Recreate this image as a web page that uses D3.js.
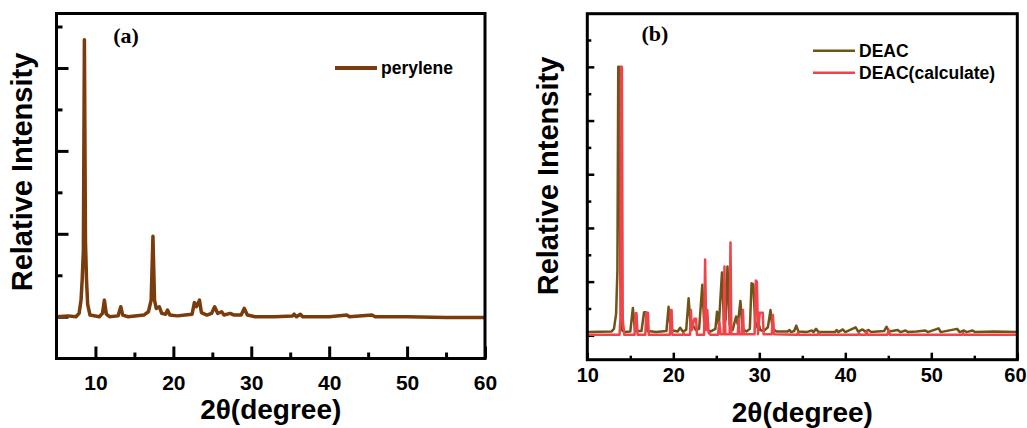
<!DOCTYPE html>
<html lang="en">
<head>
    <meta charset="UTF-8">
    <title>XRD patterns</title>
    <script src="https://cdnjs.cloudflare.com/ajax/libs/d3/7.8.5/d3.min.js"></script>
    <style>
        body { margin: 0; background: #fff; }
        svg { display: block; }
        text { font-family: "Liberation Sans", Arial, sans-serif; font-weight: bold; fill: #000; }
    </style>
</head>
<body>
    <div id="chart"></div>

    <script>
        //x ticks (degrees)
        let xTicksA = [10, 20, 30, 40, 50, 60];
        let xMinorA = [15, 25, 35, 45, 55];
        let xTicksB = [10, 20, 30, 40, 50, 60];
        let xMinorB = [15, 25, 35, 45, 55];

        //y ticks (unlabelled, relative units)
        let yMajorA = [0, 1, 2, 3];
        let yMinorA = [0.5, 1.5, 2.5, 3.5];
        let yMajorB = [0, 1, 2, 3, 4, 5];
        let yMinorB = [0.5, 1.5, 2.5, 3.5, 4.5, 5.5];

        //perylene pattern, [2theta, intensity]
        let perylene = [
            [5, 0.0], [6.5, 0.01], [7.5, 0.0], [7.9, 0.04], [8.15, 0.2], [8.3, 0.45], [8.45, 0.8], [8.58, 3.34],
            [8.72, 0.9], [8.85, 0.45], [9.0, 0.15], [9.3, 0.02], [10.5, 0.0], [10.9, 0.04], [11.15, 0.2],
            [11.4, 0.03], [11.8, 0.0], [12.9, 0.01], [13.25, 0.12], [13.5, 0.02], [14.2, 0.0], [16.2, 0.02],
            [16.8, 0.06], [17.15, 0.2], [17.38, 0.97], [17.58, 0.2], [17.8, 0.1], [18.2, 0.12], [18.5, 0.04],
            [19.0, 0.03], [19.25, 0.08], [19.55, 0.02], [20.5, 0.01], [21.5, 0.02], [22.4, 0.03], [22.7, 0.17],
            [22.95, 0.12], [23.35, 0.2], [23.6, 0.05], [24.3, 0.02], [24.9, 0.04], [25.3, 0.12], [25.7, 0.04],
            [26.2, 0.06], [26.5, 0.02], [27.3, 0.04], [27.8, 0.02], [28.7, 0.02], [29.1, 0.1], [29.5, 0.02],
            [30.5, 0.0], [33.0, 0.0], [35.3, 0.01], [35.5, 0.03], [35.8, 0.0], [36.3, 0.03], [36.6, 0.0],
            [40.0, 0.0], [42.3, 0.02], [42.6, 0.0], [45.5, 0.02], [45.9, 0.0], [50.0, 0.0], [55.0, -0.01],
            [60, -0.01]
        ];

        //DEAC measured pattern
        let deac = [
            [10, 0.06], [12.8, 0.07], [13.1, 0.12], [13.35, 0.4], [13.5, 1.2], [13.6, 5.0], [13.72, 5.0],
            [13.85, 1.0], [14.0, 0.1], [14.3, 0.06], [15.0, 0.07], [15.3, 0.51], [15.55, 0.08], [16.3, 0.08],
            [16.6, 0.43], [16.8, 0.43], [17.0, 0.08], [18.0, 0.06], [19.2, 0.08], [19.45, 0.53], [19.7, 0.1],
            [20.5, 0.07], [20.8, 0.14], [21.1, 0.07], [21.5, 0.1], [21.78, 0.69], [22.05, 0.12], [22.3, 0.18],
            [22.6, 0.1], [23.0, 0.12], [23.37, 0.94], [23.6, 0.2], [23.9, 0.12], [24.3, 0.07], [24.9, 0.12],
            [25.08, 0.44], [25.3, 0.2], [25.66, 1.17], [25.9, 0.2], [26.1, 0.3], [26.3, 1.28], [26.55, 0.2],
            [26.9, 0.1], [27.3, 0.35], [27.5, 0.2], [27.8, 0.64], [28.05, 0.12], [28.5, 0.07], [28.9, 0.12],
            [29.1, 0.97], [29.3, 0.95], [29.55, 0.15], [29.9, 0.25], [30.1, 0.1], [30.5, 0.08], [31.0, 0.15],
            [31.3, 0.47], [31.55, 0.12], [32.0, 0.07], [33.3, 0.07], [33.5, 0.1], [33.7, 0.06], [34.05, 0.08],
            [34.3, 0.18], [34.55, 0.07], [35.5, 0.06], [36.1, 0.09], [36.3, 0.06], [36.6, 0.12], [36.9, 0.06],
            [38.8, 0.06], [39.0, 0.1], [39.2, 0.06], [39.7, 0.11], [40.0, 0.06], [41.2, 0.15], [41.5, 0.07],
            [42.0, 0.11], [42.3, 0.07], [42.7, 0.1], [43.0, 0.06], [44.5, 0.08], [44.8, 0.16], [45.1, 0.07],
            [46.1, 0.1], [46.4, 0.06], [47.0, 0.09], [47.3, 0.06], [48.3, 0.07], [49.3, 0.09], [49.6, 0.06],
            [50.85, 0.13], [51.1, 0.06], [53.0, 0.12], [53.3, 0.06], [53.8, 0.09], [54.1, 0.06], [54.8, 0.09],
            [55.1, 0.06], [57.3, 0.07], [60, 0.06]
        ];

        //DEAC calculated pattern
        let deacCalc = [
            [10, 0.01], [13.75, 0.01], [13.85, 0.3], [13.92, 5.0], [14.02, 5.0], [14.12, 0.3], [14.3, 0.01],
            [15.5, 0.01], [15.6, 0.41], [15.72, 0.41], [15.85, 0.01], [16.75, 0.01], [16.85, 0.42], [17.05, 0.42],
            [17.15, 0.01], [19.6, 0.01], [19.7, 0.47], [19.8, 0.47], [19.9, 0.01], [21.1, 0.01], [21.2, 0.04],
            [21.3, 0.01], [21.95, 0.01], [22.05, 0.47], [22.15, 0.1], [22.45, 0.31], [22.65, 0.31], [22.75, 0.01],
            [23.58, 0.01], [23.7, 1.41], [23.82, 0.1], [23.95, 0.47], [24.1, 0.05], [24.3, 0.01], [25.2, 0.01],
            [25.35, 0.25], [25.5, 0.02], [25.85, 0.02], [25.95, 1.28], [26.05, 0.02], [26.55, 0.02], [26.65, 1.73],
            [26.75, 0.02], [27.5, 0.02], [27.6, 0.3], [27.7, 0.02], [28.0, 0.02], [28.1, 0.47], [28.2, 0.02],
            [29.45, 0.02], [29.6, 1.02], [29.72, 1.0], [29.85, 0.02], [30.05, 0.42], [30.4, 0.42], [30.5, 0.02],
            [31.45, 0.02], [31.58, 0.38], [31.72, 0.02], [34.4, 0.01], [34.5, 0.05], [34.6, 0.01], [36.8, 0.01],
            [36.9, 0.04], [37.0, 0.01], [41.5, 0.01], [41.6, 0.04], [41.7, 0.01], [42.4, 0.01], [42.5, 0.07],
            [42.6, 0.01], [44.9, 0.01], [45.05, 0.1], [45.2, 0.01], [53.6, 0.01], [53.7, 0.04], [53.8, 0.01],
            [60, 0.01]
        ];

        let width = 1027;
        let height = 428;

        let svg = d3.select('#chart')
            .append('svg')
            .attr('width', width)
            .attr('height', height);

        //draws one framed panel
        function drawPanel(opt) {
            let x = d3.scaleLinear().domain(opt.xDomain).range([opt.left, opt.right]);
            let y = d3.scaleLinear().domain(opt.yDomain).range([opt.bottom, opt.top]);
            let g = svg.append('g');

            //x major ticks with labels (pointing inward)
            let xAxis = g.append('g')
                .attr('transform', `translate(0,${opt.bottom})`)
                .call(d3.axisBottom(x).tickValues(opt.xTicks).tickSize(-opt.majorLen).tickPadding(opt.labelPad).tickFormat(d3.format('d')));
            xAxis.selectAll('text').style('font-size', opt.tickFont + 'px');
            //last label sits against the page edge
            xAxis.selectAll('text').filter(d => d === 60 && opt.right > 1000).attr('dx', '-0.12em');

            //x minor ticks
            let xMinor = g.append('g')
                .attr('transform', `translate(0,${opt.bottom})`)
                .call(d3.axisBottom(x).tickValues(opt.xMinor).tickSize(-opt.minorLen).tickFormat(''));

            //y ticks, no labels
            let yAxis = g.append('g')
                .attr('transform', `translate(${opt.left},0)`)
                .call(d3.axisLeft(y).tickValues(opt.yMajor).tickSize(-opt.majorLen).tickFormat(''));
            let yMinor = g.append('g')
                .attr('transform', `translate(${opt.left},0)`)
                .call(d3.axisLeft(y).tickValues(opt.yMinor).tickSize(-opt.minorLen).tickFormat(''));

            [xAxis, xMinor, yAxis, yMinor].forEach(a => {
                a.select('.domain').remove();
                a.selectAll('line').attr('stroke', '#000').attr('stroke-width', opt.tickWidth);
            });

            //data lines
            let line = d3.line().x(d => x(d[0])).y(d => y(d[1]));
            opt.series.forEach(s => {
                g.append('path')
                    .datum(s.data)
                    .attr('d', line)
                    .attr('fill', 'none')
                    .attr('stroke', s.color)
                    .attr('stroke-width', s.width)
                    .attr('stroke-linejoin', 'round');
            });

            //frame
            g.append('rect')
                .attr('x', opt.left)
                .attr('y', opt.top)
                .attr('width', opt.right - opt.left)
                .attr('height', opt.bottom - opt.top)
                .attr('fill', 'none')
                .attr('stroke', '#000')
                .attr('stroke-width', 3);

            //legend
            opt.series.forEach((s, i) => {
                let ly = opt.legendY + i * opt.legendGap;
                g.append('line')
                    .attr('x1', opt.legendX).attr('x2', opt.legendX + opt.legendLen)
                    .attr('y1', ly).attr('y2', ly)
                    .attr('stroke', s.color)
                    .attr('stroke-width', s.legendWidth);
                g.append('text')
                    .attr('x', opt.legendX + opt.legendLen + 4)
                    .attr('y', ly + 6)
                    .style('font-size', '17.5px')
                    .text(s.name);
            });

            //panel letter
            g.append('text')
                .attr('x', opt.tagX)
                .attr('y', opt.tagY)
                .attr('text-anchor', 'middle')
                .style('font-family', '"Liberation Serif", "Times New Roman", serif')
                .style('font-size', '22px')
                .text(opt.tag);

            //axis titles
            g.append('text')
                .attr('x', (opt.left + opt.right) / 2)
                .attr('y', opt.xTitleY)
                .attr('text-anchor', 'middle')
                .style('font-size', '28px')
                .text('2θ(degree)');

            g.append('text')
                .attr('transform', `translate(${opt.yTitleX},${opt.yTitleCy}) rotate(-90)`)
                .attr('text-anchor', 'middle')
                .style('font-size', '29px')
                .text('Relative Intensity');
        }

        drawPanel({
            left: 56.5, right: 485, top: 13.5, bottom: 358.5,
            xDomain: [5, 60], yDomain: [-0.504, 3.657],
            xTicks: xTicksA, xMinor: xMinorA, yMajor: yMajorA, yMinor: yMinorA,
            majorLen: 12, minorLen: 6, tickWidth: 3, labelPad: 17, tickFont: 21,
            series: [{ name: 'perylene', data: perylene, color: '#7a3c0c', width: 3.5, legendWidth: 4 }],
            legendX: 335, legendY: 68, legendLen: 42, legendGap: 22,
            tag: '(a)', tagX: 126, tagY: 43,
            xTitleY: 419, yTitleX: 32, yTitleCy: 172
        });

        drawPanel({
            left: 587.3, right: 1017.3, top: 13.7, bottom: 359.7,
            xDomain: [10, 60], yDomain: [-0.454, 5.99],
            xTicks: xTicksB, xMinor: xMinorB, yMajor: yMajorB, yMinor: yMinorB,
            majorLen: 7, minorLen: 4, tickWidth: 2.5, labelPad: 8.5, tickFont: 20,
            series: [
                { name: 'DEAC', data: deac, color: '#6e5416', width: 2.5, legendWidth: 2.5 },
                { name: 'DEAC(calculate)', data: deacCalc, color: '#f0444a', width: 2.5, legendWidth: 2.5 }
            ],
            legendX: 813, legendY: 50.7, legendLen: 42, legendGap: 22,
            tag: '(b)', tagX: 655, tagY: 41,
            xTitleY: 422, yTitleX: 558, yTitleCy: 176
        });
    </script>
</body>
</html>
